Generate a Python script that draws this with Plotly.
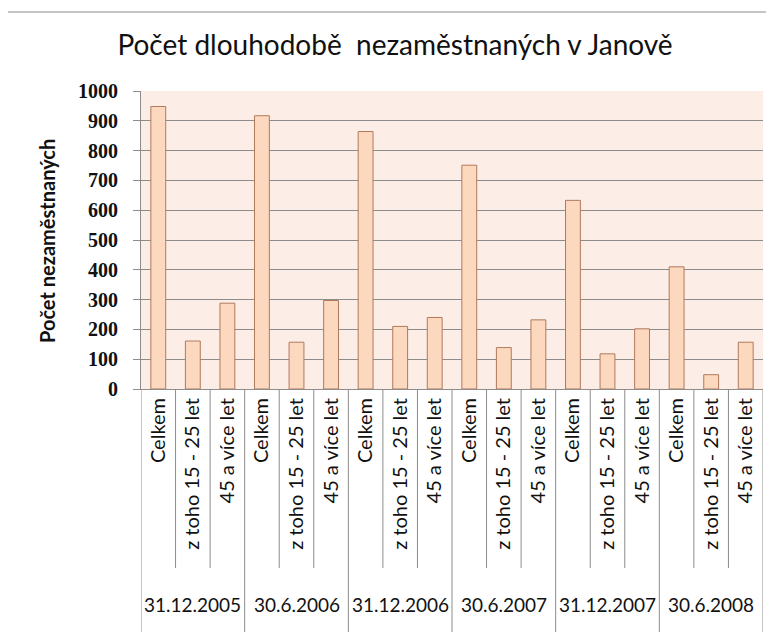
import plotly.graph_objects as go

# ---- data ----
dates = ["31.12.2005", "30.6.2006", "31.12.2006", "30.6.2007", "31.12.2007", "30.6.2008"]
subcats = ["Celkem", "z toho 15 - 25 let", "45 a více let"]
celkem = [948, 917, 864, 751, 633, 410]
mladi = [161, 157, 210, 139, 118, 48]
starsi = [288, 297, 240, 232, 202, 157]
y_ticks = [0, 100, 200, 300, 400, 500, 600, 700, 800, 900, 1000]

title_text = "Počet dlouhodobě\u00a0 nezaměstnaných v Janově"
y_title = "Počet nezaměstnaných"

# build flat series
values = []
labels = []
for i in range(len(dates)):
    values += [celkem[i], mladi[i], starsi[i]]
    labels += subcats
xpos = list(range(len(values)))

W, H = 774, 632
OFF = 8  # page body margin offset compensation
# target plot area (in screenshot pixels)
PL, PR, PT, PB = 141, 763, 91, 389
L, T = PL - OFF, PT - OFF
R = W - (PR - OFF)
B = H - (PB - OFF)
pw, ph = W - L - R, H - T - B


def px_x(p):
    return (p - OFF - L) / pw


def px_y(p):
    return (H - B - (p - OFF)) / ph


FONT = "Lato, Carlito, sans-serif"

fig = go.Figure()
fig.add_trace(go.Bar(
    x=xpos, y=values,
    marker=dict(color="#FCD8BE", line=dict(color="#B07A5C", width=1)),
    width=0.43,
    hoverinfo="y",
))

shapes = []
# outer chart frame
shapes.append(dict(type="rect", xref="paper", yref="paper",
                   x0=px_x(5), x1=px_x(800), y0=px_y(660), y1=px_y(12),
                   line=dict(color="#8C8C8C", width=1.2), layer="below"))
n = len(values)
for k in range(n + 1):
    xb = k - 0.5
    y1 = px_y(650) if k % 3 == 0 else px_y(568)
    shapes.append(dict(type="line", xref="x", yref="paper",
                       x0=xb, x1=xb, y0=0, y1=y1,
                       line=dict(color="#8C8C8C", width=1)))

annotations = []
for g, d in enumerate(dates):
    annotations.append(dict(x=3 * g + 1, y=px_y(604), xref="x", yref="paper",
                            text=d, showarrow=False, xanchor="center", yanchor="middle",
                            font=dict(family=FONT, size=19, color="#111")))
annotations.append(dict(x=px_x(47), y=px_y(241), xref="paper", yref="paper",
                        text="<b>" + y_title + "</b>", textangle=-90, showarrow=False,
                        xanchor="center", yanchor="middle",
                        font=dict(family=FONT, size=20, color="#111")))

fig.update_layout(
    width=W, height=H,
    margin=dict(l=L, r=R, t=T, b=B, pad=0, autoexpand=False),
    paper_bgcolor="white",
    plot_bgcolor="#FDEDE7",
    showlegend=False,
    title=dict(text=title_text, x=(395 - OFF) / W, xanchor="center",
               y=1 - (45 - OFF) / H, yanchor="middle",
               font=dict(family=FONT, size=28, color="#111")),
    shapes=shapes,
    annotations=annotations,
    xaxis=dict(
        range=[-0.5, n - 0.5],
        tickmode="array", tickvals=xpos, ticktext=labels,
        tickangle=-90, ticks="", showgrid=False, zeroline=False,
        showline=True, linecolor="#8C8C8C", linewidth=1,
        tickfont=dict(family=FONT, size=20, color="#111"),
        automargin=False, fixedrange=True,
    ),
    yaxis=dict(
        range=[0, 1000],
        tickmode="array", tickvals=y_ticks,
        ticks="outside", ticklen=7, tickcolor="#8C8C8C",
        showgrid=True, gridcolor="#8C8C8C", gridwidth=1,
        zeroline=False, showline=True, linecolor="#8C8C8C", linewidth=1,
        tickfont=dict(family="Liberation Serif, serif", size=20, color="#111", weight="bold"),
        ticklabelstandoff=11,
        automargin=False, fixedrange=True,
    ),
)

fig.write_html("out.html")
